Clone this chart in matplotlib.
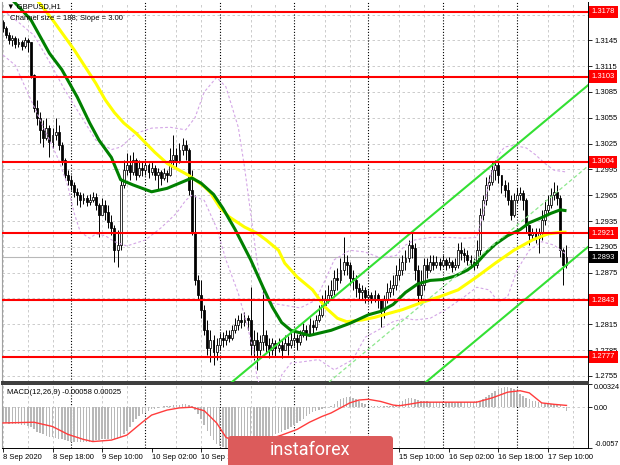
import numpy as np
import matplotlib
matplotlib.use("Agg")
import matplotlib.pyplot as plt
from matplotlib.patches import FancyBboxPatch

plt.rcParams['font.family'] = ['Liberation Sans', 'DejaVu Sans']

# ---------------- data ----------------
symbol_title = "\u25BC GBPUSD,H1"
channel_text = "Channel size = 188; Slope = 3.00"
macd_text = "MACD(12,26,9) -0.00058 0.00025"

first_open = 1.3166
close = [
    1.3159, 1.3151, 1.3145, 1.3148, 1.3141, 1.3143, 1.3138, 1.3145, 1.3143, 1.3105,
    1.3066, 1.3055, 1.3041, 1.3032, 1.3043, 1.3027, 1.3035, 1.3038, 1.3023, 1.3006,
    1.2988, 1.2983, 1.2977, 1.2969, 1.2965, 1.2959, 1.2962, 1.2957, 1.2959, 1.2963,
    1.2954, 1.2942, 1.2954, 1.2945, 1.2934, 1.2927, 1.2901, 1.2907, 1.2977, 1.2994,
    1.3000, 1.2992, 1.3006, 1.2988, 1.2997, 1.2994, 1.3000, 1.2992, 1.2997, 1.2988,
    1.2992, 1.2985, 1.2991, 1.2988, 1.3006, 1.3012, 1.3004, 1.3018, 1.3023, 1.3018,
    1.2971, 1.2922, 1.2866, 1.2849, 1.2832, 1.2808, 1.2787, 1.2797, 1.2783, 1.2791,
    1.2799, 1.2797, 1.2802, 1.2799, 1.2808, 1.2814, 1.2820, 1.2818, 1.2822, 1.2820,
    1.2791, 1.2797, 1.2785, 1.2794, 1.2802, 1.2791, 1.2785, 1.2793, 1.2787, 1.2791,
    1.2785, 1.2793, 1.2791, 1.2797, 1.2799, 1.2794, 1.2802, 1.2808, 1.2805, 1.2814,
    1.2812, 1.2820, 1.2826, 1.2837, 1.2843, 1.2849, 1.2855, 1.2869, 1.2866, 1.2878,
    1.2887, 1.2884, 1.2869, 1.2866, 1.2857, 1.2852, 1.2855, 1.2847, 1.2849, 1.2846,
    1.2849, 1.2843, 1.2832, 1.2843, 1.2852, 1.2857, 1.2861, 1.2872, 1.2878, 1.2887,
    1.2892, 1.2907, 1.2904, 1.2878, 1.2849, 1.2861, 1.2884, 1.2878, 1.2887, 1.2884,
    1.2887, 1.2884, 1.2890, 1.2884, 1.2887, 1.2881, 1.2884, 1.2901, 1.2898, 1.2895,
    1.2890, 1.2887, 1.2884, 1.2901, 1.2942, 1.2959, 1.2977, 1.2980, 1.2994, 1.3000,
    1.2988, 1.2977, 1.2971, 1.2959, 1.2942, 1.2959, 1.2965, 1.2968, 1.2959, 1.2930,
    1.2919, 1.2922, 1.2915, 1.2921, 1.2936, 1.2948, 1.2954, 1.2965, 1.2969, 1.2962,
    1.2901, 1.2884, 1.2893]
high = [
    1.3169, 1.3162, 1.3155, 1.3151, 1.3150, 1.3148, 1.3145, 1.3149, 1.3148, 1.3143,
    1.3106, 1.3076, 1.3062, 1.3052, 1.3055, 1.3047, 1.3043, 1.3055, 1.3047, 1.3027,
    1.3008, 1.2994, 1.2988, 1.2980, 1.2973, 1.2969, 1.2968, 1.2965, 1.2966, 1.2969,
    1.2968, 1.2956, 1.2962, 1.2959, 1.2954, 1.2942, 1.2930, 1.2925, 1.2985, 1.3006,
    1.3014, 1.3012, 1.3015, 1.3008, 1.3006, 1.3004, 1.3006, 1.3002, 1.3004, 1.3000,
    1.2997, 1.2994, 1.2997, 1.2994, 1.3020, 1.3035, 1.3020, 1.3026, 1.3032, 1.3029,
    1.3020, 1.2994, 1.2965, 1.2872, 1.2866, 1.2837, 1.2820, 1.2808, 1.2802, 1.2799,
    1.2805, 1.2806, 1.2808, 1.2808, 1.2814, 1.2822, 1.2826, 1.2828, 1.2829, 1.2826,
    1.2858, 1.2808, 1.2806, 1.2802, 1.2858, 1.2808, 1.2799, 1.2799, 1.2797, 1.2799,
    1.2797, 1.2802, 1.2801, 1.2806, 1.2808, 1.2804, 1.2808, 1.2816, 1.2814, 1.2822,
    1.2820, 1.2826, 1.2837, 1.2849, 1.2855, 1.2861, 1.2866, 1.2878, 1.2880, 1.2892,
    1.2916, 1.2895, 1.2887, 1.2878, 1.2872, 1.2863, 1.2861, 1.2858, 1.2855, 1.2852,
    1.2855, 1.2851, 1.2843, 1.2849, 1.2863, 1.2866, 1.2872, 1.2884, 1.2892, 1.2895,
    1.2901, 1.2913, 1.2921, 1.2909, 1.2884, 1.2878, 1.2892, 1.2892, 1.2895, 1.2895,
    1.2894, 1.2892, 1.2895, 1.2892, 1.2893, 1.2890, 1.2892, 1.2909, 1.2911, 1.2904,
    1.2901, 1.2895, 1.2892, 1.2913, 1.2950, 1.2965, 1.2986, 1.2988, 1.3004, 1.3006,
    1.3004, 1.2988, 1.2983, 1.2980, 1.2965, 1.2968, 1.2973, 1.2975, 1.2971, 1.2962,
    1.2930, 1.2927, 1.2927, 1.2927, 1.2948, 1.2959, 1.2965, 1.2973, 1.2980, 1.2977,
    1.2965, 1.2904, 1.2907]
low = [
    1.3155, 1.3148, 1.3141, 1.3138, 1.3136, 1.3137, 1.3134, 1.3136, 1.3131, 1.3101,
    1.3062, 1.3047, 1.3026, 1.3021, 1.3029, 1.3009, 1.3020, 1.3029, 1.3018, 1.3000,
    1.2985, 1.2977, 1.2971, 1.2963, 1.2954, 1.2951, 1.2955, 1.2952, 1.2954, 1.2957,
    1.2948, 1.2916, 1.2942, 1.2936, 1.2927, 1.2919, 1.2887, 1.2881, 1.2901, 1.2973,
    1.2988, 1.2983, 1.2988, 1.2983, 1.2986, 1.2987, 1.2988, 1.2985, 1.2988, 1.2983,
    1.2971, 1.2977, 1.2983, 1.2980, 1.2987, 1.3000, 1.2997, 1.3002, 1.3012, 1.3006,
    1.2965, 1.2919, 1.2861, 1.2843, 1.2822, 1.2802, 1.2779, 1.2771, 1.2768, 1.2774,
    1.2785, 1.2789, 1.2791, 1.2794, 1.2797, 1.2805, 1.2808, 1.2811, 1.2813, 1.2808,
    1.2779, 1.2774, 1.2762, 1.2779, 1.2785, 1.2783, 1.2776, 1.2779, 1.2777, 1.2783,
    1.2776, 1.2785, 1.2779, 1.2787, 1.2790, 1.2785, 1.2791, 1.2800, 1.2797, 1.2802,
    1.2802, 1.2808, 1.2818, 1.2823, 1.2834, 1.2840, 1.2843, 1.2849, 1.2855, 1.2863,
    1.2872, 1.2872, 1.2861, 1.2855, 1.2847, 1.2843, 1.2843, 1.2840, 1.2841, 1.2840,
    1.2841, 1.2834, 1.2812, 1.2822, 1.2840, 1.2847, 1.2849, 1.2855, 1.2866, 1.2872,
    1.2878, 1.2887, 1.2892, 1.2866, 1.2840, 1.2843, 1.2855, 1.2869, 1.2876, 1.2878,
    1.2880, 1.2878, 1.2881, 1.2878, 1.2880, 1.2876, 1.2878, 1.2880, 1.2890, 1.2887,
    1.2884, 1.2880, 1.2878, 1.2880, 1.2895, 1.2936, 1.2954, 1.2971, 1.2977, 1.2983,
    1.2979, 1.2968, 1.2963, 1.2954, 1.2936, 1.2940, 1.2956, 1.2959, 1.2948, 1.2921,
    1.2907, 1.2913, 1.2909, 1.2898, 1.2913, 1.2930, 1.2942, 1.2950, 1.2959, 1.2954,
    1.2893, 1.2861, 1.2880]

ma_green_bars = [0, 3, 9, 15, 19, 24, 28, 31, 35, 38, 42, 48, 53, 57, 61, 64, 68, 71, 75,
                 80, 84, 87, 90, 93, 96, 99, 106, 112, 118, 122, 126, 130, 134, 138, 142,
                 146, 150, 153, 156, 159, 163, 167, 170, 174, 177, 180, 182]
ma_green = [1.3203, 1.3192, 1.3169, 1.3130, 1.3111, 1.3079, 1.3049, 1.3029, 1.3009, 1.2983,
            1.2977, 1.2969, 1.2973, 1.2979, 1.2985, 1.2979, 1.2966, 1.2950, 1.2925, 1.2890,
            1.2858, 1.2835, 1.2817, 1.2808, 1.2805, 1.2802, 1.2808, 1.2816, 1.2826, 1.2830,
            1.2838, 1.2852, 1.2862, 1.2866, 1.2867, 1.2871, 1.2878, 1.2886, 1.2898, 1.2908,
            1.2918, 1.2925, 1.2933, 1.2939, 1.2944, 1.2948, 1.2947]

ma_yellow_bars = [0, 6, 11, 16, 23, 30, 33, 36, 39, 43, 46, 49, 53, 57, 60, 62, 65, 67, 70,
                  73, 78, 82, 85, 89, 91, 95, 100, 104, 108, 111, 116, 120, 124, 129, 135,
                  141, 147, 153, 159, 165, 171, 176, 180, 182]
ma_yellow = [1.3244, 1.3217, 1.3192, 1.3169, 1.3134, 1.3095, 1.3076, 1.3061, 1.3049, 1.3037,
             1.3026, 1.3015, 1.3002, 1.2994, 1.2988, 1.2983, 1.2975, 1.2968, 1.2951, 1.2940,
             1.2928, 1.2921, 1.2913, 1.2901, 1.2886, 1.2870, 1.2855, 1.2835, 1.2822, 1.2818,
             1.2820, 1.2823, 1.2827, 1.2832, 1.2840, 1.2847, 1.2855, 1.2870, 1.2886, 1.2901,
             1.2913, 1.2920, 1.2922, 1.2922]

bb_upper_bars = [0, 5, 10, 15, 20, 25, 30, 35, 38, 43, 48, 54, 59, 62, 65, 69, 72, 76, 78,
                 80, 82, 84, 86, 91, 96, 101, 104, 107, 112, 117, 122, 127, 130, 133, 138,
                 144, 149, 153, 155, 157, 160, 162, 165, 169, 172, 175, 178, 182]
bb_upper = [1.3180, 1.3166, 1.3151, 1.3120, 1.3087, 1.3058, 1.3029, 1.3018, 1.3021, 1.3037,
            1.3043, 1.3044, 1.3041, 1.3055, 1.3085, 1.3102, 1.3091, 1.3044, 1.2998, 1.2944,
            1.2890, 1.2851, 1.2840, 1.2837, 1.2834, 1.2843, 1.2866, 1.2890, 1.2901, 1.2899,
            1.2892, 1.2895, 1.2907, 1.2913, 1.2916, 1.2916, 1.2915, 1.2916, 1.2942, 1.2983,
            1.3012, 1.3021, 1.3023, 1.3020, 1.3012, 1.3002, 1.2994, 1.2992]
bb_lower_bars = [0, 4, 9, 15, 18, 21, 23, 25, 28, 30, 33, 36, 40, 46, 51, 56, 59, 61, 65,
                 69, 72, 76, 79, 81, 82, 84, 88, 90, 93, 96, 102, 107, 113, 117, 121, 126,
                 130, 133, 138, 143, 149, 153, 157, 160, 163, 166, 170, 174, 178, 182]
bb_lower = [1.3128, 1.3116, 1.3076, 1.3029, 1.3006, 1.2975, 1.2944, 1.2922, 1.2915, 1.2920,
            1.2918, 1.2911, 1.2906, 1.2913, 1.2927, 1.2944, 1.2959, 1.2965, 1.2959, 1.2927,
            1.2890, 1.2851, 1.2812, 1.2782, 1.2754, 1.2733, 1.2729, 1.2756, 1.2770, 1.2771,
            1.2774, 1.2762, 1.2774, 1.2800, 1.2808, 1.2818, 1.2822, 1.2820, 1.2822, 1.2832,
            1.2847, 1.2858, 1.2855, 1.2841, 1.2847, 1.2878, 1.2901, 1.2911, 1.2907, 1.2896]

levels = [1.3178, 1.3103, 1.3004, 1.2921, 1.2843, 1.2777]
bid = 1.2893

channel_ref_bar = 189
channel_upper_ref = 1.3093
channel_lower_ref = 1.2905
channel_slope = 0.0003

price_ticks = [1.2755, 1.2785, 1.2815, 1.2845, 1.2875, 1.2905, 1.2935, 1.2965, 1.2995,
               1.3025, 1.3055, 1.3085, 1.3115, 1.3145, 1.3175]
# labels fully covered by the level boxes in the reference are left blank
price_tick_labels = ['1.2755', '1.2785', '1.2815', '', '1.2875', '1.2905', '1.2935',
                     '1.2965', '1.2995', '1.3025', '1.3055', '1.3085', '1.3115', '1.3145', '']

macd_hist = [v * 1e-4 for v in [
    -22, -22, -23, -23, -24, -24, -25, -25, -26, -28,
    -31, -34, -36, -38, -40, -41, -42, -43, -44, -45,
    -46, -47, -48, -49, -49, -49, -49, -48, -48, -47,
    -46, -46, -45, -45, -44, -44, -45, -45, -42, -38,
    -33, -27, -20, -16, -12, -9, -7, -5, -3, -2,
    -1, 0, 1, 2, 2, 3, 3, 3, 4, 4,
    3, 1, -4, -10, -17, -25, -33, -40, -46, -51,
    -54, -56, -57, -57, -56, -55, -54, -53, -52, -51,
    -49, -48, -47, -46, -44, -43, -42, -40, -38, -36,
    -34, -32, -30, -28, -25, -22, -19, -16, -12, -9,
    -7, -6, -4, -3, -1, 0, 2, 5, 8, 11,
    13, 14, 14, 13, 11, 8, 6, 4, 3, 2,
    2, 1, 1, 1, 1, 2, 2, 3, 5, 8,
    11, 13, 13, 12, 10, 9, 8, 8, 7, 7,
    7, 7, 7, 7, 7, 7, 6, 7, 7, 7,
    7, 7, 7, 8, 9, 11, 14, 17, 20, 23,
    25, 27, 28, 28, 27, 25, 22, 19, 16, 13,
    11, 9, 8, 7, 6, 6, 5, 5, 5, 5,
    3, -1, -5.8]]
signal_bars = [0, 10, 16, 21, 26, 29, 35, 40, 45, 48, 53, 57, 61, 65, 69, 72, 76, 80, 85,
               90, 95, 99, 103, 106, 109, 112, 115, 118, 122, 126, 128, 131, 135, 145, 153,
               158, 163, 167, 170, 174, 178, 182]
signal = [v * 1e-4 for v in [
    -22, -21, -27, -38, -45, -48, -46, -39, -21, -11, -4, -1, 0, -5, -22, -42, -50, -50,
    -46, -39, -31, -21, -13, -8, -1, 6, 10, 11, 8, 3, 2, 4, 7, 7, 7, 13, 21, 23, 20, 6,
    4, 2.5]]
macd_ticks = [0.00324, 0.0, -0.0057]
macd_tick_labels = ['0.00324', '0.00', '-0.0057']

day_bars = [22, 46, 70, 94, 118, 142, 166]
date_label_bars = [0, 16, 32, 48, 64, 128, 144, 160, 176]
date_labels = ['8 Sep 2020', '8 Sep 18:00', '9 Sep 10:00', '10 Sep 02:00', '10 Sep 18:00',
               '15 Sep 10:00', '16 Sep 02:00', '16 Sep 18:00', '17 Sep 10:00']
grid_bars = [b for b in range(0, 189, 8) if all(abs(b - d) > 3 for d in day_bars)]

assert len(close) == len(high) == len(low) == len(macd_hist)

# ---------------- figure ----------------
W, H = 620, 465
fig = plt.figure(figsize=(W / 100, H / 100), dpi=100)
fig.patch.set_facecolor('white')
ax = fig.add_axes([2 / W, (H - 382) / H, 586 / W, 380 / H])
axm = fig.add_axes([2 / W, (H - 448) / H, 586 / W, 64 / H])
XL = (-0.32, 188.95)
FS = 5.5

bars = np.arange(len(close))
c = np.array(close)
o = np.array([first_open] + close[:-1])
h = np.maximum(np.array(high), np.maximum(o, c))
l = np.minimum(np.array(low), np.minimum(o, c))
up = c >= o

for a in (ax, axm):
    a.set_xlim(*XL)
    for b in grid_bars:
        a.axvline(b, color='#c4c4c4', ls=(0, (3, 3)), lw=0.6, zorder=0.5)
    for b in day_bars:
        a.axvline(b, color='black', ls=(0, (1, 1.6)), lw=0.8, zorder=0.6)
    a.spines['left'].set_color('#a0a0a0')
    a.spines['right'].set_color('black')
    a.spines['right'].set_linewidth(0.7)

# main panel
ax.set_ylim(1.27479, 1.31896)
ax.set_yticks(price_ticks)
ax.set_yticklabels(price_tick_labels)
ax.yaxis.tick_right()
ax.tick_params(axis='y', direction='out', length=3, width=0.6, pad=2, labelsize=FS)
ax.tick_params(axis='x', bottom=False, labelbottom=False)
ax.set_axisbelow(True)
ax.grid(axis='y', color='#c4c4c4', ls=(0, (3, 3)), lw=0.6)
ax.spines['top'].set_visible(False)
ax.spines['bottom'].set_color('#3a3a3a')
ax.spines['bottom'].set_linewidth(1.4)

ax.axhline(bid, color='#b8b8b8', lw=0.8, zorder=1)

ax.vlines(bars, l, h, color='black', lw=0.7, zorder=2)
ax.bar(bars[up], (c - o)[up], bottom=o[up], width=0.62, color='white',
       edgecolor='black', lw=0.55, zorder=2.5)
ax.bar(bars[~up], (o - c)[~up], bottom=c[~up], width=0.62, color='black',
       edgecolor='black', lw=0.55, zorder=2.5)

ax.plot(bb_upper_bars, bb_upper, color='#d4a6e6', ls=(0, (2.5, 2)), lw=0.8, zorder=3)
ax.plot(bb_lower_bars, bb_lower, color='#d4a6e6', ls=(0, (2.5, 2)), lw=0.8, zorder=3)
ax.plot(ma_yellow_bars, ma_yellow, color='#ffff00', lw=2.2, zorder=4,
        solid_capstyle='butt')
ax.plot(ma_green_bars, ma_green, color='#008000', lw=2.2, zorder=4.1,
        solid_capstyle='butt')

xs = np.array([XL[0], XL[1]])
ch_up = channel_upper_ref + channel_slope * (xs - channel_ref_bar)
ch_lo = channel_lower_ref + channel_slope * (xs - channel_ref_bar)
ch_mid = (ch_up + ch_lo) / 2
ax.plot(xs, ch_up, color='#33e033', lw=1.5, zorder=5)
ax.plot(xs, ch_lo, color='#33e033', lw=1.5, zorder=5)
ax.plot(xs, ch_mid, color='#8ee88e', lw=0.9, ls=(0, (3, 2)), zorder=5)

for lv in levels:
    ax.axhline(lv, color='#ff0000', lw=1.5, zorder=5.5)
    ax.text(1.0 + 3.5 / 586, lv, f'{lv:.4f}', transform=ax.get_yaxis_transform(),
            ha='left', va='center', fontsize=FS, color='white', clip_on=False, zorder=10,
            bbox=dict(boxstyle='square,pad=0.35', fc='#ff0000', ec='none'))
ax.text(1.0 + 3.5 / 586, bid, f'{bid:.4f}', transform=ax.get_yaxis_transform(),
        ha='left', va='center', fontsize=FS, color='white', clip_on=False, zorder=10,
        bbox=dict(boxstyle='square,pad=0.35', fc='black', ec='none'))

ax.text(5 / 586, 1 - 5 / 380, symbol_title, transform=ax.transAxes, ha='left', va='center',
        fontsize=FS, color='black', zorder=8)
ax.text(8 / 586, 1 - 16 / 380, channel_text, transform=ax.transAxes, ha='left',
        va='center', fontsize=FS, color='black', zorder=8)

# MACD panel
axm.set_ylim(-0.0057, 0.00324)
axm.bar(bars, macd_hist, width=0.5, color='#b8b8b8', zorder=2)
axm.plot(signal_bars, signal, color='#ff3c3c', lw=1.0, zorder=3)
axm.axhline(0, color='#c4c4c4', ls=(0, (3, 3)), lw=0.6, zorder=0.5)
axm.set_yticks(macd_ticks)
axm.set_yticklabels(macd_tick_labels)
axm.yaxis.tick_right()
axm.tick_params(axis='y', direction='out', length=3, width=0.6, pad=1.5, labelsize=5.2)
lbls = axm.get_yticklabels()
lbls[0].set_verticalalignment('top')
lbls[2].set_verticalalignment('bottom')
axm.set_xticks(date_label_bars)
axm.set_xticklabels(date_labels)
axm.tick_params(axis='x', direction='out', length=3, width=0.6, pad=1.5, labelsize=FS)
for t in axm.get_xticklabels():
    t.set_horizontalalignment('left')
axm.spines['top'].set_color('#3a3a3a')
axm.spines['top'].set_linewidth(1.4)
axm.spines['bottom'].set_color('black')
axm.spines['bottom'].set_linewidth(0.7)
axm.text(5 / 586, 1 - 8 / 64, macd_text, transform=axm.transAxes, ha='left', va='center',
         fontsize=FS, color='black', zorder=8)

# watermark
logo = FancyBboxPatch((228, -6), 165, 35, boxstyle='round,pad=0,rounding_size=3',
                      transform=None, fc='#dc5b5b', ec='none', zorder=20)
fig.patches.append(logo)
fig.text(310 / W, 10 / H, 'instaforex', ha='center', va='baseline', color='white',
         fontsize=13, family=['Roboto', 'DejaVu Sans'], zorder=21)

fig.savefig('out.png', dpi=100)
